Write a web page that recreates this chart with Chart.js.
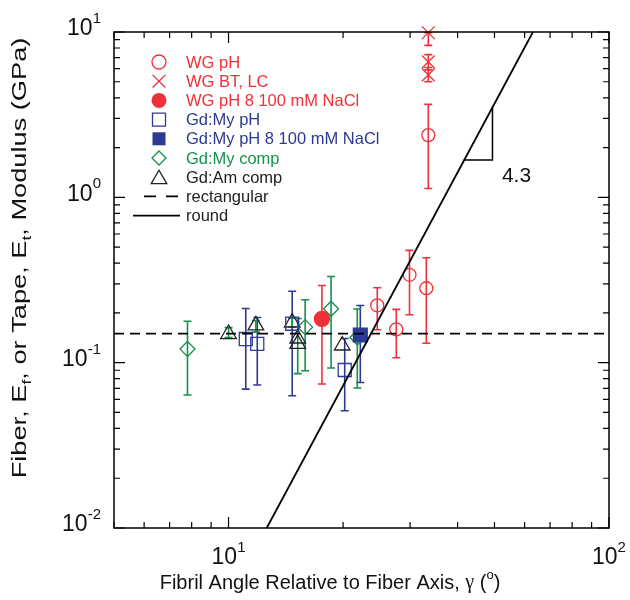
<!DOCTYPE html>
<html>
<head>
<meta charset="utf-8">
<script src="https://cdn.jsdelivr.net/npm/chart.js@4.4.1/dist/chart.umd.min.js"></script>
<style>
  html, body { margin: 0; padding: 0; background: #fff; }
</style>
</head>
<body>
<canvas id="myChart" width="630" height="600"></canvas>
<script>
// colours
RED = "#ee3138";
BLUE = "#2d3a93";
GREEN = "#14924b";
BLACK = "#222222";
SANS = "'Liberation Sans', Arial, sans-serif";

// WG pH (open circles)
wgPhX = [24.6, 27.6, 29.9, 33.1, 33.5];
wgPhY = [0.222, 0.159, 0.34, 0.282, 2.38];
wgPhLo = [0.158, 0.107, 0.195, 0.131, 1.13];
wgPhHi = [0.284, 0.21, 0.478, 0.431, 3.65];

// WG BT, LC (crosses)
wgBtX = [33.5, 33.5, 33.5];
wgBtY = [9.9, 6.6, 5.5];
wgBtLo = [8.3, 5.9, 5.0];
wgBtHi = [9.9, 7.3, 6.1];

// WG pH 8 100 mM NaCl
wgSaltX = [17.6];
wgSaltY = [0.184];
wgSaltLo = [0.0743];
wgSaltHi = [0.293];

// Gd:My pH (open squares)
gdPhX = [11.1, 11.9, 14.7, 20.2];
gdPhY = [0.139, 0.13, 0.172, 0.0903];
gdPhLo = [0.0692, 0.0732, 0.0631, 0.0512];
gdPhHi = [0.2125, 0.1874, 0.2705, 0.14];

// Gd:My pH 8 100 mM NaCl
gdSaltX = [22.2];
gdSaltY = [0.147];
gdSaltLo = [0.0759];
gdSaltHi = [0.2215];

// Gd:My comp (diamonds)
gdCompX = [7.8, 15.9, 18.6, 21.8];
gdCompY = [0.121, 0.164, 0.212, 0.142];
gdCompLo = [0.0637, 0.0894, 0.0929, 0.0703];
gdCompHi = [0.178, 0.24, 0.332, 0.211];

// Gd:Am comp (triangles)
gdAmX = [10.0, 11.8, 14.7, 15.2, 15.2, 19.9];
gdAmY = [0.149, 0.168, 0.175, 0.14, 0.13, 0.127];
gdAmLo = [0.142, 0.153, 0.165, 0.0858, 0.13, 0.127];
gdAmHi = [0.163, 0.18, 0.186, 0.185, 0.13, 0.127];

// model lines
rectX = [5, 100];
rectY = [0.15, 0.15];
roundX = [12.6, 63.1];
roundY = [0.01, 10];
slopeX = [41.5, 49.4, 49.4];
slopeY = [1.68, 1.68, 3.56];
slopeLabel = "4.3";
slopeLabelX = 52.3;
slopeLabelY = 1.34;

// axis ticks
xMajor = [10, 100];
xMajorLabels = ["1", "2"];
xMinor = [5, 6, 7, 8, 9, 20, 30, 40, 50, 60, 70, 80, 90];
yMajor = [0.01, 0.1, 1, 10];
yMajorLabels = ["-2", "-1", "0", "1"];
yMinor = [0.02, 0.03, 0.04, 0.05, 0.06, 0.07, 0.08, 0.09,
  0.2, 0.3, 0.4, 0.5, 0.6, 0.7, 0.8, 0.9,
  2, 3, 4, 5, 6, 7, 8, 9];

function pts(xs, ys) {
  let out = [];
  for (let i = 0; i < xs.length; i++) out.push({ x: xs[i], y: ys[i] });
  return out;
}

function series(label, xs, ys, lo, hi, style, r, color, filled, barColor) {
  return {
    type: "scatter",
    label: label,
    data: pts(xs, ys),
    errLo: lo,
    errHi: hi,
    errColor: barColor || color,
    pointStyle: style,
    pointRadius: r,
    pointHoverRadius: r,
    borderColor: color,
    backgroundColor: filled ? color : "rgba(0,0,0,0)",
    pointBorderWidth: 1.3,
    clip: false,
  };
}

function line(label, xs, ys, dash, width) {
  return {
    type: "line",
    label: label,
    data: pts(xs, ys),
    borderColor: "#000",
    borderWidth: width,
    borderDash: dash,
    pointRadius: 0,
    fill: false,
    tension: 0,
  };
}

datasets = [
  line("rectangular", rectX, rectY, [10, 6], 1.8),
  line("round", roundX, roundY, [], 1.8),
  line("slope", slopeX, slopeY, [], 1.5),
  series("WG pH", wgPhX, wgPhY, wgPhLo, wgPhHi, "circle", 6.5, RED, false),
  series("WG BT, LC", wgBtX, wgBtY, wgBtLo, wgBtHi, "crossRot", 9, RED, false),
  series("WG pH 8 100 mM NaCl", wgSaltX, wgSaltY, wgSaltLo, wgSaltHi, "circle", 7.5, RED, true),
  series("Gd:My pH", gdPhX, gdPhY, gdPhLo, gdPhHi, "rect", 9.2, BLUE, false),
  series("Gd:My pH 8 100 mM NaCl", gdSaltX, gdSaltY, gdSaltLo, gdSaltHi, "rect", 9.8, BLUE, true),
  series("Gd:My comp", gdCompX, gdCompY, gdCompLo, gdCompHi, "rectRot", 7.5, GREEN, false),
  series("Gd:Am comp", gdAmX, gdAmY, gdAmLo, gdAmHi, "triangle", 9, BLACK, false, GREEN),
];

legendRows = [
  ["WG pH", "circle", RED, false],
  ["WG BT, LC", "crossRot", RED, false],
  ["WG pH 8 100 mM NaCl", "circle", RED, true],
  ["Gd:My pH", "rect", BLUE, false],
  ["Gd:My pH 8 100 mM NaCl", "rect", BLUE, true],
  ["Gd:My comp", "rectRot", GREEN, false],
  ["Gd:Am comp", "triangle", BLACK, false],
  ["rectangular", "dash", BLACK, false],
  ["round", "solid", BLACK, false],
];

function marker(ctx, style, x, y, r, color, filled) {
  ctx.save();
  ctx.strokeStyle = color;
  ctx.fillStyle = color;
  ctx.lineWidth = 1.3;
  ctx.beginPath();
  if (style == "circle") {
    ctx.arc(x, y, r, 0, Math.PI * 2);
  } else if (style == "rect") {
    let s = r * Math.SQRT1_2;
    ctx.rect(x - s, y - s, 2 * s, 2 * s);
  } else if (style == "rectRot") {
    ctx.moveTo(x, y - r);
    ctx.lineTo(x + r, y);
    ctx.lineTo(x, y + r);
    ctx.lineTo(x - r, y);
    ctx.closePath();
  } else if (style == "triangle") {
    ctx.moveTo(x, y - r);
    ctx.lineTo(x + r * 0.866, y + r / 2);
    ctx.lineTo(x - r * 0.866, y + r / 2);
    ctx.closePath();
  } else if (style == "crossRot") {
    let s = r * Math.SQRT1_2;
    ctx.moveTo(x - s, y - s);
    ctx.lineTo(x + s, y + s);
    ctx.moveTo(x + s, y - s);
    ctx.lineTo(x - s, y + s);
  }
  if (filled) ctx.fill();
  else ctx.stroke();
  ctx.restore();
}

// text made of runs: [text, font, dy]
function runs(ctx, parts, x, y, align) {
  let total = 0;
  for (let p of parts) {
    ctx.font = p[1];
    total += ctx.measureText(p[0]).width;
  }
  let cx = align == "center" ? x - total / 2 : align == "right" ? x - total : x;
  ctx.textAlign = "left";
  for (let p of parts) {
    ctx.font = p[1];
    ctx.fillText(p[0], cx, y + p[2]);
    cx += ctx.measureText(p[0]).width;
  }
}

errorBars = {
  id: "errorBars",
  beforeDatasetsDraw(chart) {
    let ctx = chart.ctx;
    let xs = chart.scales.x, ys = chart.scales.y;
    ctx.save();
    ctx.lineWidth = 1.6;
    chart.data.datasets.forEach((ds) => {
      if (!ds.errLo) return;
      ctx.strokeStyle = ds.errColor;
      ds.data.forEach((p, i) => {
        if (ds.errLo[i] == ds.errHi[i]) return;
        let px = xs.getPixelForValue(p.x);
        let top = ys.getPixelForValue(ds.errHi[i]);
        let bot = ys.getPixelForValue(ds.errLo[i]);
        ctx.beginPath();
        ctx.moveTo(px, top);
        ctx.lineTo(px, bot);
        ctx.moveTo(px - 4, top);
        ctx.lineTo(px + 4, top);
        ctx.moveTo(px - 4, bot);
        ctx.lineTo(px + 4, bot);
        ctx.stroke();
      });
    });
    ctx.restore();
  },
};

frame = {
  id: "frame",
  afterDraw(chart) {
    let ctx = chart.ctx;
    let a = chart.chartArea;
    let xs = chart.scales.x, ys = chart.scales.y;
    ctx.save();
    ctx.strokeStyle = "#000";
    ctx.lineWidth = 1.5;
    ctx.strokeRect(a.left, a.top, a.right - a.left, a.bottom - a.top);

    // inward ticks on all four sides
    ctx.lineWidth = 1.2;
    ctx.beginPath();
    function xt(v, len) {
      let px = xs.getPixelForValue(v);
      ctx.moveTo(px, a.bottom);
      ctx.lineTo(px, a.bottom - len);
      ctx.moveTo(px, a.top);
      ctx.lineTo(px, a.top + len);
    }
    function yt(v, len) {
      let py = ys.getPixelForValue(v);
      ctx.moveTo(a.left, py);
      ctx.lineTo(a.left + len, py);
      ctx.moveTo(a.right, py);
      ctx.lineTo(a.right - len, py);
    }
    xMajor.forEach((v) => xt(v, 11));
    xMinor.forEach((v) => xt(v, 6));
    yMajor.forEach((v) => yt(v, 11));
    yMinor.forEach((v) => yt(v, 6));
    ctx.stroke();

    // tick labels
    ctx.fillStyle = "#111";
    ctx.textBaseline = "middle";
    xMajor.forEach((v, i) => {
      runs(ctx, [["10", "23px " + SANS, 0], [xMajorLabels[i], "15px " + SANS, -10]],
        xs.getPixelForValue(v), a.bottom + 30, "center");
    });
    yMajor.forEach((v, i) => {
      runs(ctx, [["10", "23px " + SANS, 0], [yMajorLabels[i], "15px " + SANS, -10]],
        101, ys.getPixelForValue(v) - 3, "right");
    });

    // axis titles
    runs(ctx, [
      ["Fibril Angle Relative to Fiber Axis, ", "20px " + SANS, 0],
      ["\u03b3", "20px 'Liberation Serif', serif", 0],
      [" (", "20px " + SANS, 0],
      ["o", "13px " + SANS, -8],
      [")", "20px " + SANS, 0],
    ], 330, 583, "center");

    ctx.save();
    ctx.translate(20, 258);
    ctx.rotate(-Math.PI / 2);
    ctx.scale(1.36, 1);
    runs(ctx, [
      ["Fiber, E", "20px " + SANS, 0],
      ["f", "13px " + SANS, 7],
      [", or Tape, E", "20px " + SANS, 0],
      ["t", "13px " + SANS, 7],
      [", Modulus (GPa)", "20px " + SANS, 0],
    ], 0, 0, "center");
    ctx.restore();

    // slope label
    ctx.fillStyle = "#111";
    ctx.font = "21px " + SANS;
    ctx.textAlign = "left";
    ctx.textBaseline = "middle";
    ctx.fillText(slopeLabel, xs.getPixelForValue(slopeLabelX), ys.getPixelForValue(slopeLabelY));

    // legend
    let ly = 62;
    legendRows.forEach((row) => {
      let [text, style, color, filled] = row;
      if (style == "dash") {
        ctx.strokeStyle = "#000";
        ctx.lineWidth = 1.8;
        ctx.setLineDash([12, 10]);
        ctx.beginPath();
        ctx.moveTo(144, ly);
        ctx.lineTo(180, ly);
        ctx.stroke();
        ctx.setLineDash([]);
      } else if (style == "solid") {
        ctx.strokeStyle = "#000";
        ctx.lineWidth = 1.8;
        ctx.beginPath();
        ctx.moveTo(133, ly);
        ctx.lineTo(180, ly);
        ctx.stroke();
      } else {
        let r = style == "rect" ? 9.2 : style == "triangle" ? 9 : style == "crossRot" ? 9 : 7;
        if (style == "circle" && filled) r = 7.5;
        marker(ctx, style, 159, ly + (style == "triangle" ? 2 : 0), r, color, filled);
      }
      ctx.fillStyle = color;
      ctx.font = "16.5px " + SANS;
      ctx.textAlign = "left";
      ctx.textBaseline = "middle";
      ctx.fillText(text, 186, ly + 1);
      ly += 19.2;
    });
    ctx.restore();
  },
};

config = {
  data: { datasets: datasets },
  options: {
    responsive: false,
    animation: false,
    devicePixelRatio: 1,
    layout: { padding: { top: 32, right: 21, left: 0, bottom: 0 } },
    plugins: { legend: { display: false }, tooltip: { enabled: false } },
    scales: {
      x: {
        type: "logarithmic",
        min: 5,
        max: 100,
        ticks: { display: false },
        grid: { display: false },
        border: { display: false },
        afterFit: (s) => { s.height = 72; },
      },
      y: {
        type: "logarithmic",
        min: 0.01,
        max: 10,
        ticks: { display: false },
        grid: { display: false },
        border: { display: false },
        afterFit: (s) => { s.width = 114; },
      },
    },
  },
  plugins: [errorBars, frame],
};

myChart = new Chart(document.getElementById("myChart"), config);
</script>
</body>
</html>
